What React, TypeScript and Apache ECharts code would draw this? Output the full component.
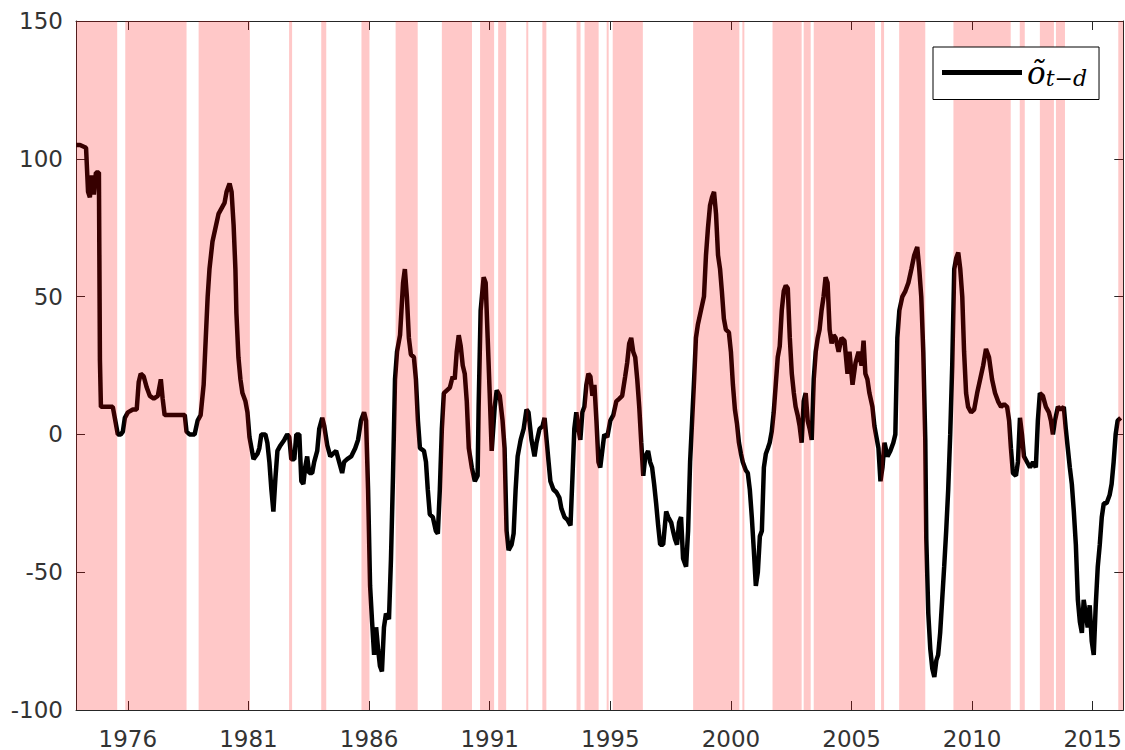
import React, { useEffect, useRef } from "react";
import * as echarts from "echarts";

// Observation index (months from the start of the sample) and the plotted value
const months = [
  0, 2.0, 5.0, 6.0, 6.9, 7.9, 8.9, 9.9, 11.4, 11.9, 12.4, 18.3, 19.8, 20.8, 22.3, 23.3, 24.3, 25.8, 28.3, 30.2,
  31.2, 32.2, 33.7, 35.2, 36.7, 38.7, 40.7, 42.2, 43.1, 44.1, 54.1, 55.0, 56.5, 59.0, 60.5, 62.0, 63.5, 64.5, 65.5, 66.4,
  67.9, 69.4, 70.9, 72.4, 73.9, 74.9, 76.4, 77.4, 78.4, 79.3, 79.8, 80.8, 81.8, 82.8, 84.3, 85.3, 86.3, 87.3, 88.3, 89.3,
  90.3, 91.2, 92.2, 94.2, 95.2, 96.2, 97.2, 98.2, 99.2, 100.2, 101.7, 103.6, 105.1, 106.1, 107.1, 108.6, 109.6, 111.1, 112.1, 113.1,
  114.0, 115.0, 116.0, 117.5, 118.5, 120.0, 121.0, 122.5, 123.5, 125.0, 126.5, 127.9, 129.4, 130.9, 132.4, 133.4, 134.9, 136.9, 138.9, 140.3,
  141.8, 143.3, 144.3, 145.3, 146.3, 147.3, 148.3, 149.3, 150.3, 151.2, 152.2, 153.2, 154.2, 155.7, 156.7, 157.7, 158.7, 159.7, 161.2, 162.7,
  163.6, 164.6, 165.6, 166.6, 168.1, 169.1, 170.1, 171.1, 173.1, 174.1, 175.0, 176.0, 177.5, 179.0, 180.0, 181.0, 182.0, 183.0, 184.5, 186.0,
  187.4, 188.4, 189.4, 190.4, 191.4, 192.4, 193.4, 194.4, 195.4, 196.9, 198.4, 199.8, 200.3, 201.3, 202.8, 203.8, 204.8, 205.8, 206.8, 208.3,
  209.3, 210.8, 212.2, 213.2, 214.2, 215.2, 216.7, 217.7, 218.7, 219.7, 221.2, 222.7, 224.1, 225.1, 226.6, 228.1, 229.1, 230.6, 232.1, 233.1,
  234.1, 235.1, 236.0, 237.5, 239.0, 240.5, 241.5, 243.0, 244.5, 246.0, 247.0, 247.9, 248.9, 249.9, 250.9, 251.9, 252.9, 253.9, 254.9, 255.9,
  256.9, 257.9, 258.9, 259.9, 260.8, 261.8, 262.8, 264.3, 265.8, 267.3, 268.8, 270.3, 271.7, 273.2, 274.2, 275.2, 276.2, 277.2, 278.2, 279.2,
  280.2, 281.2, 282.2, 283.2, 284.6, 285.6, 286.6, 287.6, 288.6, 289.6, 290.6, 292.1, 293.6, 294.6, 296.1, 297.0, 298.0, 299.0, 300.0, 301.0,
  302.0, 303.5, 304.5, 305.5, 306.5, 307.5, 308.4, 309.4, 310.9, 312.4, 313.4, 314.4, 315.4, 316.4, 317.4, 318.4, 319.4, 320.4, 321.3, 322.3,
  323.3, 324.8, 325.8, 326.8, 327.8, 328.8, 329.8, 330.8, 331.7, 333.2, 334.2, 335.2, 336.2, 337.2, 338.2, 339.2, 340.2, 341.2, 342.2, 343.2,
  344.2, 345.1, 346.1, 347.1, 348.1, 349.1, 350.1, 351.1, 352.1, 353.1, 354.1, 355.1, 356.1, 357.1, 358.0, 359.0, 360.0, 361.0, 362.0, 363.0,
  364.0, 365.0, 366.0, 367.0, 368.0, 369.0, 369.9, 370.9, 371.9, 372.9, 373.9, 374.9, 375.9, 376.9, 377.9, 379.4, 380.8, 382.3, 383.8, 384.8,
  386.3, 387.8, 389.3, 390.8, 391.8, 392.7, 393.7, 394.7, 396.2, 397.2, 398.2, 399.2, 400.2, 401.2, 402.2, 403.7, 405.1, 406.6, 407.6, 408.6,
  409.6, 411.1, 412.6, 414.1, 415.6, 417.0, 418.5, 419.5, 420.5, 421.5, 422.5, 423.0, 424.0, 425.0, 426.0, 427.0, 428.0, 428.9, 429.9, 430.9,
  431.9, 432.9, 433.9, 434.9, 435.9, 436.9, 437.9, 438.9, 439.9, 440.9, 441.8, 442.8, 443.8, 445.3, 446.8, 448.3, 449.8, 451.3, 452.7, 454.2,
  455.7, 457.2, 458.7, 460.2, 461.7, 463.2, 464.2, 465.1, 466.1, 467.6, 468.6, 469.6, 470.6, 471.6, 473.1, 474.6, 476.1, 477.5, 478.5, 479.5,
  481.0, 482.5, 484.0, 485.0, 486.0, 487.0, 488.5, 489.9, 491.4, 492.4, 493.4, 494.4, 495.4, 496.4, 497.4, 498.4, 499.4, 500.4, 501.3, 502.3,
  503.3, 504.3, 505.3, 506.3, 507.3, 508.3, 509.3, 510.3, 511.3, 512.7, 514.2, 515.2, 516.2, 517.2, 518.2, 519.7,
];

const values = [
  105, 105, 104, 88, 86, 94, 87, 95, 95, 27, 10, 10, 4, 0, 0, 1, 6, 8, 9, 9,
  19, 22, 21, 17, 14, 13, 14, 20, 13, 7, 7, 1, 0, 0, 5, 7, 18, 34, 50, 60,
  70, 75, 80, 82, 84, 88, 91, 88, 76, 60, 44, 28, 20, 15, 12, 8, -1, -5, -9, -8,
  -7, -5, 0, 0, -3, -10, -20, -28, -16, -6, -4, -2, 0, -1, -9, -9, 0, 0, -17, -18,
  -12, -8, -14, -14, -10, -6, 2, 6, 3, -4, -8, -7, -6, -10, -14, -10, -9, -8, -5, -2,
  5, 8, 5, -20, -55, -68, -80, -70, -78, -84, -86, -70, -65, -67, -45, -15, 20, 30, 36, 55,
  60, 50, 35, 29, 28, 20, 5, -5, -6, -10, -20, -29, -30, -35, -36, -20, 2, 15, 16, 17,
  21, 20, 30, 36, 32, 25, 22, 12, -5, -12, -17, -15, 10, 45, 57, 55, 35, 15, -6, 10,
  16, 14, 5, -5, -35, -42, -40, -36, -20, -8, -2, 2, 9, 8, -2, -8, -3, 2, 3, 6,
  -2, -10, -17, -20, -21, -23, -27, -30, -31, -33, -15, 2, 8, 2, -2, 8, 10, 18, 22, 21,
  14, 18, 5, -10, -12, -6, 0, -1, 5, 7, 12, 13, 14, 21, 26, 33, 35, 30, 28, 20,
  10, -3, -15, -8, -6, -10, -12, -18, -25, -33, -40, -40, -28, -30, -32, -35, -38, -40, -32, -30,
  -45, -48, -35, -10, 5, 20, 35, 40, 45, 50, 65, 75, 83, 86, 88, 80, 65, 60, 52, 42,
  38, 37, 30, 18, 9, 4, -3, -7, -10, -13, -14, -20, -30, -42, -55, -50, -37, -35, -12, -7,
  -5, -3, 1, 8, 18, 28, 32, 45, 52, 54, 53, 35, 22, 15, 10, 7, 3, -3, 12, 15,
  5, 2, -2, 20, 30, 35, 38, 45, 50, 57, 55, 38, 33, 36, 35, 30, 35, 34, 22, 30,
  18, 26, 30, 25, 34, 22, 20, 15, 10, 3, -1, -5, -17, -12, -3, -8, -6, -3, 0, 35,
  45, 50, 52, 55, 60, 65, 68, 60, 50, 30, -2, -38, -65, -78, -85, -88, -82, -80, -72, -60,
  -48, -35, -20, 0, 25, 60, 64, 66, 60, 50, 30, 15, 10, 8, 9, 15, 20, 25, 31, 28,
  20, 15, 12, 10, 11, 10, 5, -5, -14, -15, -10, 6, 0, -8, -10, -12, -10, -12, 5, 15,
  14, 10, 8, 5, 0, 5, 10, 9, 10, 2, -5, -12, -18, -28, -40, -60, -68, -72, -60, -65,
  -70, -62, -75, -80, -62, -48, -40, -30, -25, -25, -22, -18, -10, 0, 5, 6,
];

// Shaded periods (start / end, in the same month index)
const bandStarts = [
  0, 24.5, 61, 106, 122, 142, 159, 182, 201, 210, 224, 232, 249, 253, 264, 267, 307, 331.5, 346.5, 362,
  367, 400.5, 409.5, 436.5, 469.5, 479.5, 487.5, 518.5,
];
const bandEnds = [
  20.5, 55, 86.5, 107.5, 124.5, 146, 170, 197, 208, 214, 225, 234, 251, 260, 265, 282, 330, 332.5, 361, 365.5,
  397.5, 402, 422.5, 465, 472, 486.5, 492, 521,
];

const xMin = 0;
const xMax = 521;
const tickMonths = [25.8, 85.8, 145.8, 205.8, 265.8, 325.8, 385.8, 445.8, 505.8];
const tickLabels = ["1976", "1981", "1986", "1991", "1995", "2000", "2005", "2010", "2015"];
const yMin = -100;
const yMax = 150;
const yStep = 50;

const seriesName = "o_tilde";
const axisColor = "#262626";
const labelFont = "DejaVu Sans, Liberation Sans, Arial, sans-serif";
const mathFont = "DejaVu Serif, Liberation Serif, serif";

export default function App() {
  const ref = useRef<HTMLDivElement>(null);

  useEffect(() => {
    if (!ref.current) return;
    const chart = echarts.init(ref.current, undefined, { renderer: "svg" });

    const lineData = months.map((m, i) => [m, values[i]]);
    const bandData = bandStarts.map((s, i) => [s, bandEnds[i]]);

    const xAxisBase = (position: "bottom" | "top", showLabel: boolean) => ({
      type: "value",
      position,
      min: xMin,
      max: xMax,
      axisLine: { show: true, onZero: false, lineStyle: { color: axisColor, width: 1 } },
      axisTick: {
        show: true,
        inside: true,
        length: 9,
        customValues: tickMonths,
        lineStyle: { color: axisColor, width: 1 },
      },
      axisLabel: {
        show: showLabel,
        customValues: tickMonths,
        margin: 17,
        fontSize: 23,
        fontFamily: labelFont,
        color: "#333333",
        formatter: (v: number) => {
          const idx = tickMonths.findIndex((t) => Math.abs(t - v) < 0.01);
          return idx >= 0 ? tickLabels[idx] : "";
        },
      },
      splitLine: { show: false },
    });

    const yAxisBase = (position: "left" | "right", showLabel: boolean) => ({
      type: "value",
      position,
      min: yMin,
      max: yMax,
      interval: yStep,
      axisLine: { show: true, onZero: false, lineStyle: { color: axisColor, width: 1 } },
      axisTick: { show: true, inside: true, length: 9, lineStyle: { color: axisColor, width: 1 } },
      axisLabel: {
        show: showLabel,
        margin: 13,
        fontSize: 23,
        fontFamily: labelFont,
        color: "#333333",
      },
      splitLine: { show: false },
    });

    chart.setOption({
      animation: false,
      backgroundColor: "#ffffff",
      grid: { left: 76, top: 21, width: 1050.7, height: 689, containLabel: false },
      xAxis: [xAxisBase("bottom", true), xAxisBase("top", false)],
      yAxis: [yAxisBase("left", true), yAxisBase("right", false)],
      legend: {
        show: true,
        data: [seriesName],
        left: 933,
        top: 47,
        icon: "rect",
        itemWidth: 80,
        itemHeight: 5,
        padding: [10, 12, 10, 9],
        backgroundColor: "#ffffff",
        borderColor: "#000000",
        borderWidth: 1,
        borderRadius: 0,
        selectedMode: false,
        formatter: () => "{a|õ}{b|t−d}",
        textStyle: {
          rich: {
            a: {
              fontFamily: mathFont,
              fontStyle: "italic",
              fontSize: 31,
              lineHeight: 34,
              color: "#000000",
            },
            b: {
              fontFamily: mathFont,
              fontStyle: "italic",
              fontSize: 22,
              lineHeight: 21,
              verticalAlign: "bottom",
              color: "#000000",
            },
          },
        },
      },
      series: [
        {
          name: seriesName,
          type: "line",
          xAxisIndex: 0,
          yAxisIndex: 0,
          data: lineData,
          showSymbol: false,
          symbol: "none",
          color: "#000000",
          lineStyle: { color: "#000000", width: 4.5 },
          z: 2,
        },
        {
          name: "bands",
          type: "custom",
          xAxisIndex: 0,
          yAxisIndex: 0,
          silent: true,
          z: 3,
          data: bandData,
          encode: { x: [0, 1] },
          renderItem: (params: any, api: any) => {
            const s = api.value(0);
            const e = api.value(1);
            const p1 = api.coord([s, yMax]);
            const p2 = api.coord([e, yMin]);
            return {
              type: "rect",
              shape: { x: p1[0], y: p1[1], width: p2[0] - p1[0], height: p2[1] - p1[1] },
              style: { fill: "rgba(255,0,0,0.215)" },
            };
          },
        },
      ],
    });

    return () => {
      chart.dispose();
    };
  }, []);

  return (
    <div
      ref={ref}
      style={{ position: "fixed", left: 0, top: 0, width: 1125, height: 750, background: "#ffffff" }}
    />
  );
}
